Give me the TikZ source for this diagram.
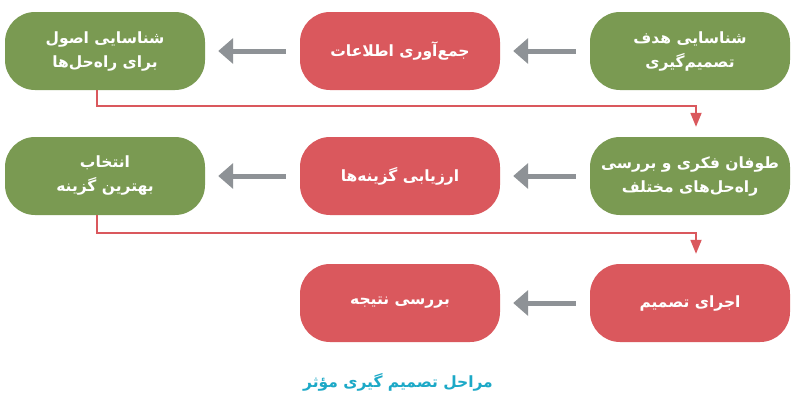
\documentclass[tikz,border=0pt]{standalone}
\usepackage{fontspec}
\usetikzlibrary{arrows.meta}
\TeXXeTstate=1
\newfontfamily\fa[Script=Arabic]{DejaVu Sans}
\definecolor{boxgreen}{HTML}{7A9A52}
\definecolor{boxred}{HTML}{DA585D}
\definecolor{arrgrey}{HTML}{8E9296}
\definecolor{capcyan}{HTML}{1CA9C7}
\newcommand{\rl}[1]{\beginR #1\endR}
\tikzset{
  stepbox/.style={rounded corners=30pt, minimum width=200pt, minimum height=78pt,
    inner sep=0pt, text=white, align=center,
    font=\fa\bfseries\fontsize{15.5}{24}\selectfont},
  greenbox/.style={stepbox, fill=boxgreen},
  redbox/.style={stepbox, fill=boxred},
  greyarrow/.style={draw=arrgrey, line width=5pt,
    -{Triangle[width=25pt,length=15pt]}, shorten >=13pt, shorten <=14pt},
  redconn/.style={draw=boxred, line width=1.8pt,
    -{Triangle[width=11pt,length=14pt]}, shorten >=10pt}
}
\begin{document}
\begin{tikzpicture}[x=1pt,y=1pt]
\useasboundingbox (0,0) rectangle (800,-400);
\fill[white] (0,0) rectangle (800,-400);
% row 1
\node[greenbox] (r1) at (690,-51) {\rl{شناسایی هدف}\\\rl{تصمیم^^^^200cگیری}};
\node[redbox]   (m1) at (400,-51) {\rl{جمع^^^^200cآوری اطلاعات}};
\node[greenbox] (l1) at (105,-51) {\rl{شناسایی اصول}\\\rl{برای راه^^^^200cحل^^^^200cها}};
% row 2
\node[greenbox] (r2) at (690,-176) {\rl{طوفان فکری و بررسی}\\\rl{راه^^^^200cحل^^^^200cهای مختلف}};
\node[redbox]   (m2) at (400,-176) {\rl{ارزیابی گزینه^^^^200cها}};
\node[greenbox] (l2) at (105,-176) {\rl{انتخاب}\\\rl{بهترین گزینه}};
% row 3
\node[redbox]   (r3) at (690,-303) {\rl{اجرای تصمیم}};
\node[redbox]   (m3) at (400,-303) {\rl{بررسی نتیجه}};
% caption
\node[text=capcyan, font=\fa\bfseries\fontsize{15.5}{18}\selectfont] (cap) at (398,-382) {\rl{مراحل تصمیم گیری مؤثر}};
% grey arrows
\draw[greyarrow] (r1.west) -- (m1.east);
\draw[greyarrow] (m1.west) -- (l1.east);
\draw[greyarrow] (r2.west) -- (m2.east);
\draw[greyarrow] (m2.west) -- (l2.east);
\draw[greyarrow] (r3.west) -- (m3.east);
% red connectors
\draw[redconn] ([xshift=-8pt]l1.south) -- ++(0,-16) -| ([xshift=6pt]r2.north);
\draw[redconn] ([xshift=-8pt]l2.south) -- ++(0,-18) -| ([xshift=6pt]r3.north);
\end{tikzpicture}
\end{document}
